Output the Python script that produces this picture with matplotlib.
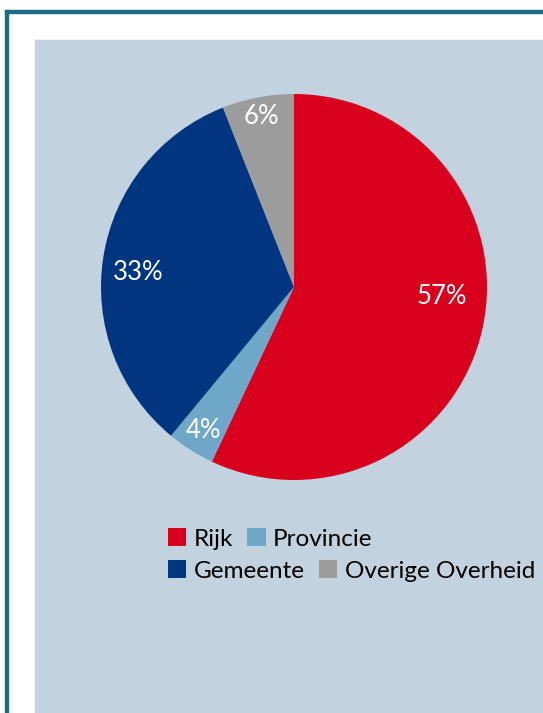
import matplotlib.pyplot as plt
from matplotlib.patches import Rectangle, Patch
import numpy as np

# data
categorieen = ["Rijk", "Provincie", "Gemeente", "Overige Overheid"]
aandelen = [57, 4, 33, 6]
kleuren = ["#d9001e", "#6fa7c9", "#00367f", "#9c9c9c"]

plt.rcParams['font.family'] = ['Lato', 'DejaVu Sans']

W, H = 543, 713
fig = plt.figure(figsize=(W / 100, H / 100), dpi=100)
fig.patch.set_facecolor("white")

# kader en paneel
rand = "#1d6a87"
fig.patches.append(Rectangle((5 / W, 0), 3 / W, (H - 10) / H, transform=fig.transFigure,
                             color=rand, zorder=-5))
fig.patches.append(Rectangle((5 / W, (H - 13) / H), (W - 5) / W, 3 / H, transform=fig.transFigure,
                             color=rand, zorder=-5))
fig.patches.append(Rectangle((35 / W, 0), (W - 35) / W, (H - 40) / H, transform=fig.transFigure,
                             color="#c2d2df", zorder=-5))

# taart
cx, cy, r = 294, 287, 193
ax = fig.add_axes([(cx - r) / W, 1 - (cy + r) / H, 2 * r / W, 2 * r / H])
ax.set_facecolor("none")
wedges, _ = ax.pie(aandelen, colors=kleuren, startangle=90, counterclock=False,
                   radius=1, wedgeprops=dict(linewidth=0))
ax.set_xlim(-1, 1)
ax.set_ylim(-1, 1)
ax.axis("off")

# labels (afstand en hoek per segment, None = midden van segment)
label_afstand = [0.77, 0.88, 0.81, 0.90]
label_hoek = [-3.5, None, 174.5, None]
for w, p, d, h in zip(wedges, aandelen, label_afstand, label_hoek):
    if h is None:
        h = (w.theta1 + w.theta2) / 2
    a = np.deg2rad(h)
    ax.text(d * np.cos(a), d * np.sin(a), f"{p}%", color="white", fontsize=18.5,
            ha="center", va="center")

# legenda in twee rijen
handles = [Patch(facecolor=k, edgecolor="none") for k in kleuren]
opts = dict(ncol=2, frameon=False, fontsize=17.5, handlelength=0.75, handleheight=0.75,
            handletextpad=0.3, columnspacing=0.6, borderpad=0, borderaxespad=0, loc="center left")
leg1 = fig.legend(handles[:2], categorieen[:2], bbox_to_anchor=(168 / W, 1 - 539 / H), **opts)
leg2 = fig.legend(handles[2:], categorieen[2:], bbox_to_anchor=(168 / W, 1 - 571 / H), **opts)

plt.savefig("out.png", dpi=100)
